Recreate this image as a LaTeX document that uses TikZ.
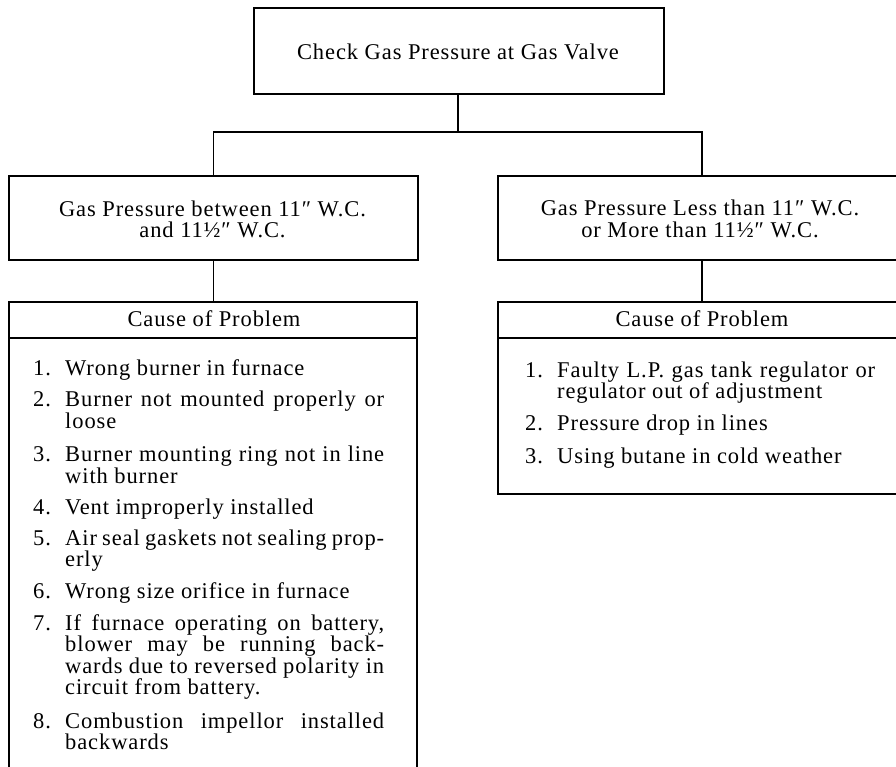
\documentclass[tikz,border=0pt]{standalone}
\usepackage{fontspec}
\setmainfont[LetterSpace=4]{Liberation Serif}
\newcommand\lstack[1]{\vtop{\lineskiplimit=-100pt\lineskip=0pt\halign{##\hfil\cr#1\crcr}}}
\newcommand\cstack[1]{\vtop{\lineskiplimit=-100pt\lineskip=0pt\halign{\hfil##\hfil\cr#1\crcr}}}
\newcommand\jl[1]{\makebox[319pt][s]{#1}}
\begin{document}
\begin{tikzpicture}[x=1pt,y=-1pt,
  box/.style={draw=black,line width=1.6pt,rectangle,inner sep=0pt,anchor=north west},
  conn/.style={draw=black,line width=1.6pt},
  txt/.style={font=\fontsize{22.5}{21.5}\selectfont,inner sep=0pt},
  ln/.style={txt,anchor=base west},
  ctr/.style={txt,anchor=base}]
\useasboundingbox (0,0) rectangle (896,766);
\begin{scope}
\clip (0,0) rectangle (896,766);
% boxes
\node[box,minimum width=410pt,minimum height=86pt] (top) at (253,7) {};
\node[box,minimum width=409pt,minimum height=84pt] (lbox) at (8,175) {};
\node[box,minimum width=408pt,minimum height=84pt] (rbox) at (497,175) {};
\node[box,minimum width=408pt,minimum height=480pt] (lcause) at (8,301) {};
\node[box,minimum width=408pt,minimum height=192pt] (rcause) at (497,301) {};
\coordinate (lsep1) at (8,338);
\coordinate (lsep2) at (416,338);
\coordinate (rsep1) at (497,338);
\coordinate (rsep2) at (905,338);
\draw[conn] (lsep1) -- (lsep2);
\draw[conn] (rsep1) -- (rsep2);
% connectors
\coordinate (junc) at (458,132);
\draw[conn] (top.south -| junc) -- (junc);
\draw[conn] (lbox.north) |- (junc) -| (rbox.north);
\draw[conn] (lbox.south) -- (lcause.north -| lbox.south);
\draw[conn] (rbox.south) -- (rcause.north -| rbox.south);
\end{scope}
% texts
\node[ctr] (ttop) at (458,59.5) {Check Gas Pressure at Gas Valve};
\node[ctr] (tl) at (212.5,216) {\cstack{Gas Pressure between 11″ W.C.\cr and 11½″ W.C.}};
\node[ctr] (tr) at (700,215.7) {\cstack{Gas Pressure Less than 11″ W.C.\cr or More than 11½″ W.C.}};
\node[ctr] (lhead) at (214,326.7) {Cause of Problem};
\node[ctr] (rhead) at (702,326.7) {Cause of Problem};
% left list
\node[ln] (n1) at (33,375) {1.};
\node[ln] (l1) at (65,375) {Wrong burner in furnace};
\node[ln] (n2) at (33,406.7) {2.};
\node[ln] (l2) at (65,406.7) {\lstack{\jl{Burner not mounted properly or}\cr loose}};
\node[ln] (n3) at (33,461.7) {3.};
\node[ln] (l3) at (65,461.7) {\lstack{\jl{Burner mounting ring not in line}\cr with burner}};
\node[ln] (n4) at (33,514) {4.};
\node[ln] (l4) at (65,514) {Vent improperly installed};
\node[ln] (n5) at (33,545) {5.};
\node[ln] (l5) at (65,545) {\lstack{\jl{Air seal gaskets not sealing prop-}\cr erly}};
\node[ln] (n6) at (33,598.3) {6.};
\node[ln] (l6) at (65,598.3) {Wrong size orifice in furnace};
\node[ln] (n7) at (33,630) {7.};
\node[ln] (l7) at (65,630) {\lstack{\jl{If furnace operating on battery,}\cr
  \jl{blower may be running back-}\cr
  \jl{wards due to reversed polarity in}\cr
  circuit from battery.}};
\node[ln] (n8) at (33,728.3) {8.};
\node[ln] (l8) at (65,728.3) {\lstack{\jl{Combustion impellor installed}\cr backwards}};
% right list
\node[ln] (m1) at (525,377) {1.};
\node[ln] (r1) at (557,377) {\lstack{\makebox[318pt][s]{Faulty L.P. gas tank regulator or}\cr regulator out of adjustment}};
\node[ln] (m2) at (525,430) {2.};
\node[ln] (r2) at (557,430) {Pressure drop in lines};
\node[ln] (m3) at (525,463.3) {3.};
\node[ln] (r3) at (557,463.3) {Using butane in cold weather};
\end{tikzpicture}
\end{document}
